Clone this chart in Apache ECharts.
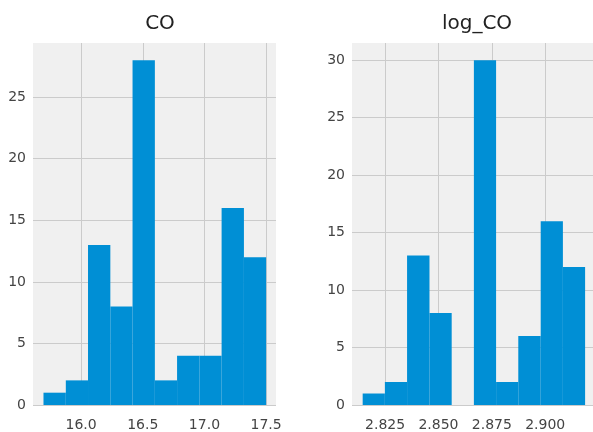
<!DOCTYPE html>
<html>
<head>
<meta charset="utf-8">
<script src="https://cdn.jsdelivr.net/npm/echarts@6/dist/echarts.min.js"></script>
<style>
html,body{margin:0;padding:0;background:#ffffff;}
#chart{width:593px;height:432px;}
</style>
</head>
<body>
<div id="chart"></div>
<script>
// Histogram of CO: bin edges and counts
const coEdges = [15.695, 15.876, 16.056, 16.237, 16.417, 16.598, 16.778, 16.959, 17.139, 17.320, 17.500];
const coCounts = [1, 2, 13, 8, 28, 2, 4, 4, 16, 12];
// Histogram of log_CO
const logEdges = [2.8145, 2.8249, 2.8353, 2.8458, 2.8562, 2.8666, 2.8770, 2.8874, 2.8979, 2.9083, 2.9187];
const logCounts = [1, 2, 13, 8, 0, 30, 2, 6, 16, 12];
// Tick labels
const coXTicks = [16.0, 16.5, 17.0, 17.5];
const coYTicks = [0, 5, 10, 15, 20, 25];
const logXTicks = [2.825, 2.850, 2.875, 2.900];
const logYTicks = [0, 5, 10, 15, 20, 25, 30];
const titles = ['CO', 'log_CO'];

function binData(edges, counts) {
  return counts.map((c, i) => [edges[i], edges[i + 1], c]);
}

const labelStyle = { color: '#444444', fontFamily: 'DejaVu Sans', fontSize: 14 };
const gridLine = { show: true, lineStyle: { color: '#cbcbcb', width: 1 } };

function xAxis(gridIndex, min, max, ticks, digits) {
  return {
    type: 'value', gridIndex, min, max,
    axisLine: { show: false },
    axisTick: { show: false, customValues: ticks },
    axisLabel: Object.assign({ customValues: ticks, margin: 13, formatter: v => v.toFixed(digits) }, labelStyle),
    splitLine: gridLine
  };
}
function yAxis(gridIndex, max, ticks) {
  return {
    type: 'value', gridIndex, min: 0, max,
    axisLine: { show: false },
    axisTick: { show: false, customValues: ticks },
    axisLabel: Object.assign({ customValues: ticks, margin: 7, formatter: v => String(v) }, labelStyle),
    splitLine: gridLine
  };
}

function renderBar(params, api) {
  const p0 = api.coord([api.value(0), 0]);
  const p1 = api.coord([api.value(1), api.value(2)]);
  return {
    type: 'rect',
    shape: { x: p0[0], y: p1[1], width: p1[0] - p0[0], height: p0[1] - p1[1] },
    style: { fill: '#008fd5' }
  };
}

const chart = echarts.init(document.getElementById('chart'), null, { renderer: 'canvas' });
chart.setOption({
  backgroundColor: '#ffffff',
  animation: false,
  title: [
    { text: titles[0], left: 155, top: 9, textAlign: 'center',
      textStyle: { fontFamily: 'DejaVu Sans', fontSize: 20, fontWeight: 'normal', color: '#222222' } },
    { text: titles[1], left: 472, top: 9, textAlign: 'center',
      textStyle: { fontFamily: 'DejaVu Sans', fontSize: 20, fontWeight: 'normal', color: '#222222' } }
  ],
  grid: [
    { left: 33, top: 43, width: 243, bottom: 24, show: true, backgroundColor: '#f0f0f0', borderWidth: 0 },
    { left: 352, top: 43, width: 241, bottom: 25, show: true, backgroundColor: '#f0f0f0', borderWidth: 0 }
  ],
  xAxis: [
    xAxis(0, 15.61, 17.58, coXTicks, 1),
    xAxis(1, 2.8095, 2.9224, logXTicks, 3)
  ],
  yAxis: [
    yAxis(0, 29.4, coYTicks),
    yAxis(1, 31.5, logYTicks)
  ],
  series: [
    { type: 'custom', xAxisIndex: 0, yAxisIndex: 0, renderItem: renderBar,
      encode: { x: [0, 1], y: 2 }, data: binData(coEdges, coCounts), clip: true },
    { type: 'custom', xAxisIndex: 1, yAxisIndex: 1, renderItem: renderBar,
      encode: { x: [0, 1], y: 2 }, data: binData(logEdges, logCounts), clip: true }
  ]
});
</script>
</body>
</html>
